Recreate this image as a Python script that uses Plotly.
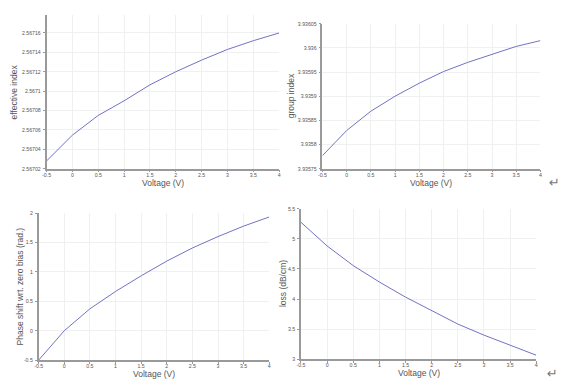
import plotly.graph_objects as go

voltage = [-0.5, 0, 0.5, 1, 1.5, 2, 2.5, 3, 3.5, 4]
effective_index = [2.567028, 2.5670546, 2.567075, 2.567090, 2.5671065, 2.567120,
                   2.567132, 2.567143, 2.567152, 2.567160]
group_index = [3.935777, 3.935829, 3.935869, 3.935900, 3.935927, 3.935951,
               3.935970, 3.935987, 3.936003, 3.936015]
phase_shift = [-0.5, 0.0, 0.372, 0.667, 0.933, 1.183, 1.406, 1.600, 1.778, 1.933]
loss = [5.276, 4.883, 4.556, 4.283, 4.032, 3.802, 3.584, 3.400, 3.230, 3.066]

x_ticks = [-0.5, 0, 0.5, 1, 1.5, 2, 2.5, 3, 3.5, 4]
x_ticktext = ["-0.5", "0", "0.5", "1", "1.5", "2", "2.5", "3", "3.5", "4"]
eff_ticks = [2.56702, 2.56704, 2.56706, 2.56708, 2.5671, 2.56712, 2.56714, 2.56716]
eff_ticktext = ["2.56702", "2.56704", "2.56706", "2.56708", "2.5671", "2.56712", "2.56714", "2.56716"]
grp_ticks = [3.93575, 3.9358, 3.93585, 3.9359, 3.93595, 3.936, 3.93605]
grp_ticktext = ["3.93575", "3.9358", "3.93585", "3.9359", "3.93595", "3.936", "3.93605"]
ph_ticks = [-0.5, 0, 0.5, 1, 1.5, 2]
ph_ticktext = ["-0.5", "0", "0.5", "1", "1.5", "2"]
loss_ticks = [3, 3.5, 4, 4.5, 5, 5.5]
loss_ticktext = ["3", "3.5", "4", "4.5", "5", "5.5"]

W, H = 587, 392
LINE = "#7272c2"
AX = "#9a9a9a"
TXT = "#555555"
FONT = "Liberation Sans"

fig = go.Figure()

panels = [
    ("x", "y", effective_index, (43, 278), (11.7, 168.3), [2.56702, 2.567179], eff_ticks, eff_ticktext, "effective index", 10),
    ("x2", "y2", group_index, (321.7, 542), (21, 168.3), [3.93575, 3.93605], grp_ticks, grp_ticktext, "group index", 290),
    ("x3", "y3", phase_shift, (35, 268), (213.3, 362.7), [-0.5, 2.0], ph_ticks, ph_ticktext, "Phase shift wrt. zero bias (rad.)", 16),
    ("x4", "y4", loss, (300, 537.7), (209, 361.7), [3.0, 5.5], loss_ticks, loss_ticktext, "loss (dB/cm)", 282),
]

layout = dict(
    width=W, height=H,
    margin=dict(l=0, r=0, t=0, b=0),
    paper_bgcolor="white", plot_bgcolor="white",
    showlegend=False,
    font=dict(family=FONT, color=TXT, size=6),
    annotations=[],
)

tickfont = dict(size=5.2, color=TXT, family=FONT)

for i, (xa, ya, ydata, (x0, x1), (yt, yb), yr, yt_vals, yt_text, ytitle, tx) in enumerate(panels):
    fig.add_trace(go.Scatter(x=voltage, y=ydata, mode="lines", xaxis=xa, yaxis=ya,
                             line=dict(color=LINE, width=1)))
    xkey = "xaxis" if xa == "x" else "xaxis" + xa[1:]
    ykey = "yaxis" if ya == "y" else "yaxis" + ya[1:]
    layout[xkey] = dict(
        domain=[x0 / W, x1 / W], anchor=ya, range=[-0.5, 4],
        tickvals=x_ticks, ticktext=x_ticktext,
        showline=True, linecolor=AX, linewidth=1.5,
        ticks="outside", ticklen=2, tickcolor=AX,
        ticklabelstandoff=-2,
        showgrid=True, gridcolor="#f0f0f0", gridwidth=1, zeroline=False,
        tickfont=tickfont,
    )
    layout[ykey] = dict(
        domain=[(H - yb) / H, (H - yt) / H], anchor=xa, range=yr,
        tickvals=yt_vals, ticktext=yt_text,
        showline=True, linecolor=AX, linewidth=1.5,
        ticks="outside", ticklen=2, tickcolor=AX,
        ticklabelstandoff=1,
        showgrid=True, gridcolor="#f0f0f0", gridwidth=1, zeroline=False,
        tickfont=tickfont,
    )
    layout["annotations"].append(dict(
        text="Voltage (V)", xref="paper", yref="paper",
        x=(x0 + x1) / 2 / W, y=(H - (yb + 14.5)) / H,
        showarrow=False, xanchor="center", yanchor="middle",
        font=dict(size=8.5, color=TXT, family=FONT)))
    layout["annotations"].append(dict(
        text=ytitle, xref="paper", yref="paper",
        x=tx / W, y=(H - (yt + yb) / 2) / H, textangle=-90,
        showarrow=False, xanchor="center", yanchor="middle",
        font=dict(size=8.5, color=TXT, family=FONT)))

for (px, py) in [(556, 182), (554, 376)]:
    layout["annotations"].append(dict(
        text="↵", xref="paper", yref="paper", x=px / W, y=(H - py) / H,
        showarrow=False, xanchor="center", yanchor="middle",
        font=dict(size=13, color="#777777", family="DejaVu Sans")))

fig.update_layout(**layout)
fig.write_html("out.html", config={"displayModeBar": False},
               post_script="document.body.style.margin='0';")
